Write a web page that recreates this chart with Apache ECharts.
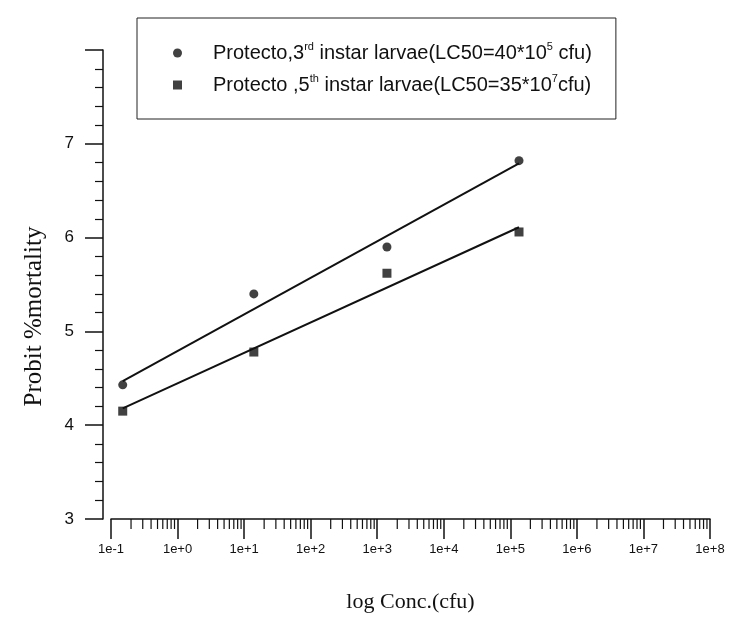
<!DOCTYPE html>
<html lang="en">
<head>
<meta charset="UTF-8">
<title>Probit %mortality</title>
<style>
    html,body{margin:0;padding:0;background:#fff;}
    #main{width:733px;height:622px;}
</style>
</head>
<body>
<div id="main"></div>
<script src="https://cdn.jsdelivr.net/npm/echarts@6/dist/echarts.min.js"></script>
<script>
// concentration of each dose (cfu)
const conc = [0.15, 14, 1400, 135000];
// probit mortality
const probit3rd = [4.43, 5.40, 5.90, 6.82];
const probit5th = [4.15, 4.78, 5.62, 6.06];
const fit3rd = [[0.15, 4.47], [135000, 6.79]];
const fit5th = [[0.15, 4.18], [135000, 6.11]];

// tick labels
const xTickLabels = ['1e-1','1e+0','1e+1','1e+2','1e+3','1e+4','1e+5','1e+6','1e+7','1e+8'];
const yTickLabels = ['3','4','5','6','7',''];

const names = [
    'Protecto,3rd instar larvae(LC50=40*10^5 cfu)',
    'Protecto ,5th instar larvae(LC50=35*10^7cfu)'
];
// same texts with superscripts as rich text
const richNames = {};
richNames[names[0]] = '{n|Protecto,3}{s|rd}{n| instar larvae(LC50=40*10}{s|5}{n| cfu)}';
richNames[names[1]] = '{n|Protecto ,5}{s|th}{n| instar larvae(LC50=35*10}{s|7}{n|cfu)}';

// log minor ticks 2..9 in each decade
const minorTicks = [];
for (let d = -1; d < xTickLabels.length - 2; d++) {
    for (let m = 2; m <= 9; m++) minorTicks.push([m * Math.pow(10, d)]);
}

const chart = echarts.init(document.getElementById('main'));

const option = {
    animation: false,
    grid: {left: 111, right: 23, top: 50, bottom: 103},
    legend: {
        orient: 'vertical',
        left: 137, top: 18,
        padding: [23, 24, 24, 36],
        borderColor: '#222', borderWidth: 1,
        itemWidth: 9, itemHeight: 9, itemGap: 10,
        data: [
            {name: names[0], icon: 'circle'},
            {name: names[1], icon: 'rect'}
        ],
        formatter: name => richNames[name],
        textStyle: {
            padding: [0, 0, 0, 26],
            rich: {
                n: {fontFamily: 'Liberation Sans', fontSize: 20, color: '#111', lineHeight: 24},
                s: {fontFamily: 'Liberation Sans', fontSize: 11, color: '#111', lineHeight: 12, verticalAlign: 'top'}
            }
        }
    },
    xAxis: {
        type: 'log', logBase: 10, min: 0.1, max: 1e8,
        name: 'log Conc.(cfu)', nameLocation: 'middle', nameGap: 72,
        nameTextStyle: {fontFamily: 'Liberation Serif', fontSize: 22, color: '#111'},
        axisLine: {lineStyle: {color: '#111', width: 1.5}},
        axisTick: {length: 20, lineStyle: {color: '#111', width: 1.5}},
        splitLine: {show: false},
        axisLabel: {
            margin: 24, fontFamily: 'Liberation Sans', fontSize: 13, color: '#111',
            formatter: v => xTickLabels[Math.round(Math.log10(v)) + 1]
        }
    },
    yAxis: {
        type: 'value', min: 3, max: 8, interval: 1, offset: 8,
        name: 'Probit %mortality', nameLocation: 'middle', nameGap: 56,
        nameTextStyle: {fontFamily: 'Liberation Serif', fontSize: 25, color: '#111', padding: [0, 64, 0, 0]},
        axisLine: {show: true, lineStyle: {color: '#111', width: 1.5}},
        axisTick: {show: true, length: 18, lineStyle: {color: '#111', width: 1.5}},
        minorTick: {show: true, splitNumber: 5, length: 8, lineStyle: {color: '#111', width: 1.2}},
        splitLine: {show: false},
        axisLabel: {
            margin: 29, fontFamily: 'Liberation Sans', fontSize: 17, color: '#111',
            formatter: v => yTickLabels[v - 3]
        }
    },
    series: [
        {
            name: names[0], type: 'scatter', symbol: 'circle', symbolSize: 9,
            itemStyle: {color: '#111'},
            data: conc.map((c, i) => [c, probit3rd[i]])
        },
        {
            name: names[1], type: 'scatter', symbol: 'rect', symbolSize: 9,
            itemStyle: {color: '#111'},
            data: conc.map((c, i) => [c, probit5th[i]])
        },
        {
            type: 'line', data: fit3rd, symbol: 'none',
            lineStyle: {color: '#111', width: 2}
        },
        {
            type: 'line', data: fit5th, symbol: 'none',
            lineStyle: {color: '#111', width: 2}
        },
        {
            // minor ticks of the log axis
            type: 'custom', data: minorTicks, silent: true,
            encode: {x: 0},
            renderItem: (params, api) => {
                const p = api.coord([api.value(0), 3]);
                return {
                    type: 'line',
                    shape: {x1: p[0], y1: p[1], x2: p[0], y2: p[1] + 10},
                    style: {stroke: '#111', lineWidth: 1.2}
                };
            }
        }
    ]
};

chart.setOption(option);
</script>
</body>
</html>
